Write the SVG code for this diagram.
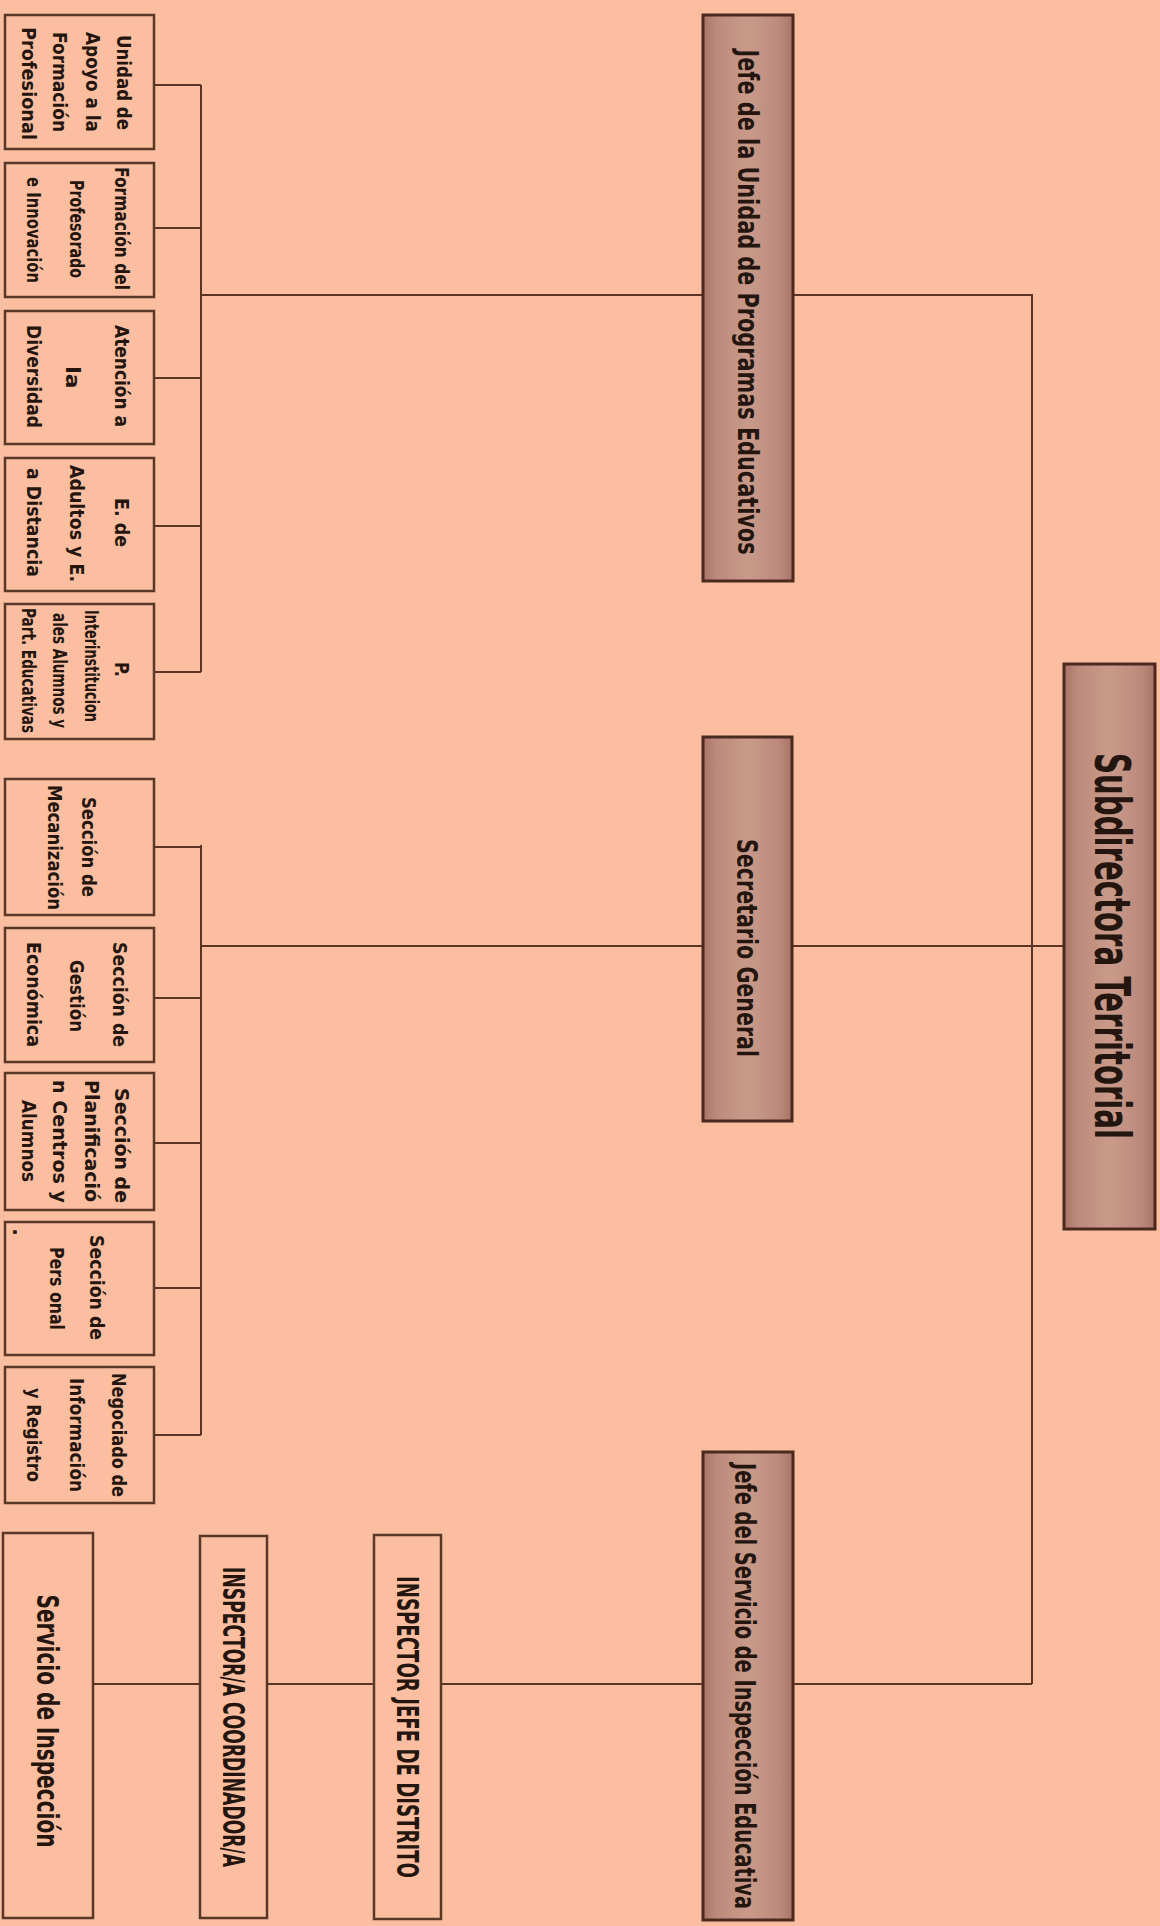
<svg xmlns="http://www.w3.org/2000/svg" width="1160" height="1926" viewBox="0 0 1160 1926">
<style>
.bg{fill:#FBBEA0}
.box{fill:#FBBEA0;stroke:#5a3828;stroke-width:2.5}
.dark{fill:url(#dg);stroke:#4a2a1e;stroke-width:3}
.t{font-family:"DejaVu Sans","Liberation Sans",sans-serif;font-weight:bold;fill:#24160f;text-anchor:middle}
.s{font-size:20px}
.m{font-size:29px}
.u{font-size:31px}
.b{font-size:50px}
.c{stroke:#5a3424;stroke-width:2;fill:none}
</style>
<defs>
<linearGradient id="dg" x1="0" y1="0" x2="1" y2="0">
<stop offset="0" stop-color="#A87366"/>
<stop offset="0.15" stop-color="#BC8A7C"/>
<stop offset="0.5" stop-color="#C99A8A"/>
<stop offset="0.85" stop-color="#BC8A7C"/>
<stop offset="1" stop-color="#A87366"/>
</linearGradient>
</defs>
<rect class="bg" x="0" y="0" width="1160" height="1926"/>

<g id="connectors">
<path class="c" d="M154 85H201M154 228H201M154 378H201M154 526H201M154 672H201M201 85V672M201 295H703"/>
<path class="c" d="M793 295H1032V1684M1032 946H1064"/>
<path class="c" d="M154 847H201M154 998H201M154 1143H201M154 1288H201M154 1435H201M201 845V1435M201 946H703M792 946H1032"/>
<path class="c" d="M1032 1684H793M703 1684H441M374 1684H267M200 1684H93"/>
</g>

<g id="subdirectora">
<rect class="dark" x="1064" y="664" width="91" height="565"/>
<text class="t b" transform="translate(1095,946) rotate(90) scale(0.55,1)" textLength="702" lengthAdjust="spacingAndGlyphs">Subdirectora Territorial</text>
</g>

<g id="jefe-unidad">
<rect class="dark" x="703" y="15" width="90" height="566"/>
<text class="t m" transform="translate(738,302) rotate(90) scale(0.6,1)" textLength="841.7" lengthAdjust="spacingAndGlyphs">Jefe de la Unidad de Programas Educativos</text>
</g>

<g id="secretario">
<rect class="dark" x="703" y="737" width="89" height="384"/>
<text class="t m" transform="translate(737,948) rotate(90) scale(0.6,1)" textLength="363.3" lengthAdjust="spacingAndGlyphs">Secretario General</text>
</g>

<g id="jefe-servicio">
<rect class="dark" x="703" y="1452" width="90" height="468"/>
<text class="t m" transform="translate(735,1686) rotate(90) scale(0.6,1)" textLength="743.3" lengthAdjust="spacingAndGlyphs">Jefe del Servicio de Inspección Educativa</text>
</g>

<g id="inspector-jefe">
<rect class="box" x="374" y="1535" width="67" height="384"/>
<text class="t u" transform="translate(397,1727) rotate(90) scale(0.6,1)" textLength="503.3" lengthAdjust="spacingAndGlyphs">INSPECTOR JEFE DE DISTRITO</text>
</g>

<g id="inspector-coord">
<rect class="box" x="200" y="1536" width="67" height="382"/>
<text class="t u" transform="translate(223,1717) rotate(90) scale(0.6,1)" textLength="500" lengthAdjust="spacingAndGlyphs">INSPECTOR/A COORDINADOR/A</text>
</g>

<g id="servicio-inspeccion">
<rect class="box" x="3" y="1533" width="90" height="385"/>
<text class="t u" transform="translate(37,1721) rotate(90) scale(0.6,1)" textLength="421.7" lengthAdjust="spacingAndGlyphs">Servicio de Inspección</text>
</g>

<g id="unidad-apoyo">
<rect class="box" x="5" y="15" width="149" height="134"/>
<text class="t s" transform="translate(117,82.5) rotate(90) scale(0.8,1)" textLength="118.75" lengthAdjust="spacingAndGlyphs">Unidad de</text>
<text class="t s" transform="translate(86,82) rotate(90) scale(0.8,1)" textLength="125" lengthAdjust="spacingAndGlyphs">Apoyo a la</text>
<text class="t s" transform="translate(53,82) rotate(90) scale(0.8,1)" textLength="125" lengthAdjust="spacingAndGlyphs">Formación</text>
<text class="t s" transform="translate(22,83.5) rotate(90) scale(0.8,1)" textLength="141.25" lengthAdjust="spacingAndGlyphs">Profesional</text>
</g>

<g id="formacion-profesorado">
<rect class="box" x="5" y="163" width="149" height="134"/>
<text class="t s" transform="translate(115,228.5) rotate(90) scale(0.8,1)" textLength="153.75" lengthAdjust="spacingAndGlyphs">Formación del</text>
<text class="t s" transform="translate(70,229) rotate(90) scale(0.8,1)" textLength="122.5" lengthAdjust="spacingAndGlyphs">Profesorado</text>
<text class="t s" transform="translate(27,230) rotate(90) scale(0.8,1)" textLength="132.5" lengthAdjust="spacingAndGlyphs">e Innovación</text>
</g>

<g id="atencion-diversidad">
<rect class="box" x="5" y="311" width="149" height="133"/>
<text class="t s" transform="translate(115,376) rotate(90) scale(0.8,1)" textLength="127.5" lengthAdjust="spacingAndGlyphs">Atención a</text>
<text class="t s" transform="translate(66,377.5) rotate(90) scale(0.8,1)" textLength="28" lengthAdjust="spacingAndGlyphs">la</text>
<text class="t s" transform="translate(27,376.5) rotate(90) scale(0.8,1)" textLength="128.75" lengthAdjust="spacingAndGlyphs">Diversidad</text>
</g>

<g id="adultos-distancia">
<rect class="box" x="5" y="458" width="149" height="133"/>
<text class="t s" transform="translate(115,522.5) rotate(90) scale(0.8,1)" textLength="61.25" lengthAdjust="spacingAndGlyphs">E. de</text>
<text class="t s" transform="translate(70,523.5) rotate(90) scale(0.8,1)" textLength="146.25" lengthAdjust="spacingAndGlyphs">Adultos y E.</text>
<text class="t s" transform="translate(27,522.5) rotate(90) scale(0.8,1)" textLength="136.25" lengthAdjust="spacingAndGlyphs">a Distancia</text>
</g>

<g id="interinstitucionales">
<rect class="box" x="5" y="604" width="149" height="135"/>
<text class="t s" transform="translate(115,669.5) rotate(90) scale(0.8,1)" textLength="18.75" lengthAdjust="spacingAndGlyphs">P.</text>
<text class="t s" transform="translate(85,666) rotate(90) scale(0.8,1)" textLength="140" lengthAdjust="spacingAndGlyphs">Interinstitucion</text>
<text class="t s" transform="translate(53,670.5) rotate(90) scale(0.8,1)" textLength="143.75" lengthAdjust="spacingAndGlyphs">ales Alumnos y</text>
<text class="t s" transform="translate(22,670.5) rotate(90) scale(0.8,1)" textLength="156.25" lengthAdjust="spacingAndGlyphs">Part. Educativas</text>
</g>

<g id="mecanizacion">
<rect class="box" x="5" y="779" width="149" height="136"/>
<text class="t s" transform="translate(82,847) rotate(90) scale(0.8,1)" textLength="125" lengthAdjust="spacingAndGlyphs">Sección de</text>
<text class="t s" transform="translate(48,847.5) rotate(90) scale(0.8,1)" textLength="156.25" lengthAdjust="spacingAndGlyphs">Mecanización</text>
</g>

<g id="gestion-economica">
<rect class="box" x="5" y="928" width="149" height="134"/>
<text class="t s" transform="translate(113,994.5) rotate(90) scale(0.8,1)" textLength="131.25" lengthAdjust="spacingAndGlyphs">Sección de</text>
<text class="t s" transform="translate(70,996) rotate(90) scale(0.8,1)" textLength="90" lengthAdjust="spacingAndGlyphs">Gestión</text>
<text class="t s" transform="translate(27,994.5) rotate(90) scale(0.8,1)" textLength="131.25" lengthAdjust="spacingAndGlyphs">Económica</text>
</g>

<g id="planificacion">
<rect class="box" x="5" y="1073" width="149" height="137"/>
<text class="t s" transform="translate(115,1145.5) rotate(90) scale(0.8,1)" textLength="143.75" lengthAdjust="spacingAndGlyphs">Sección de</text>
<text class="t s" transform="translate(85,1141) rotate(90) scale(0.8,1)" textLength="152.5" lengthAdjust="spacingAndGlyphs">Planificació</text>
<text class="t s" transform="translate(53,1141.5) rotate(90) scale(0.8,1)" textLength="153.75" lengthAdjust="spacingAndGlyphs">n Centros y</text>
<text class="t s" transform="translate(22,1141) rotate(90) scale(0.8,1)" textLength="102.5" lengthAdjust="spacingAndGlyphs">Alumnos</text>
</g>

<g id="personal">
<rect class="box" x="5" y="1222" width="149" height="133"/>
<text class="t s" transform="translate(13,1232) rotate(90)">.</text>
<text class="t s" transform="translate(90,1287.5) rotate(90) scale(0.8,1)" textLength="131.25" lengthAdjust="spacingAndGlyphs">Sección de</text>
<text class="t s" transform="translate(50,1288.5) rotate(90) scale(0.8,1)" textLength="103.75" lengthAdjust="spacingAndGlyphs">Pers onal</text>
</g>

<g id="negociado">
<rect class="box" x="5" y="1367" width="149" height="136"/>
<text class="t s" transform="translate(112,1435) rotate(90) scale(0.8,1)" textLength="155" lengthAdjust="spacingAndGlyphs">Negociado de</text>
<text class="t s" transform="translate(70,1435) rotate(90) scale(0.8,1)" textLength="142.5" lengthAdjust="spacingAndGlyphs">Información</text>
<text class="t s" transform="translate(27,1435) rotate(90) scale(0.8,1)" textLength="117.5" lengthAdjust="spacingAndGlyphs">y Registro</text>
</g>
</svg>
